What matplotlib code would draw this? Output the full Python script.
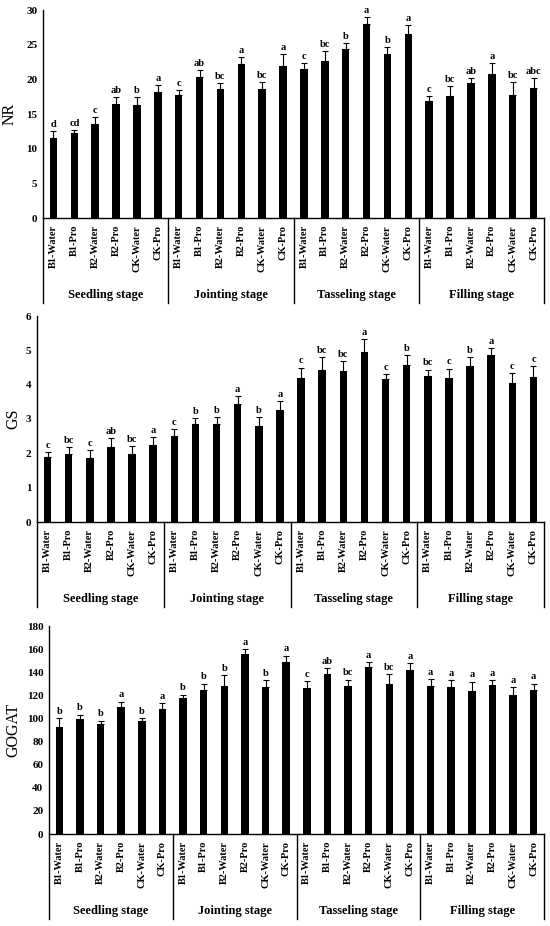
#!/usr/bin/env python3
# -*- coding: utf-8 -*-
"""
NR, GS and GOGAT by treatment and growth stage - bar charts with error bars
"""

# %% imports
import matplotlib
matplotlib.use("Agg")
import matplotlib.pyplot as plt
import numpy as np

plt.rcParams['font.family'] = ['Liberation Serif', 'DejaVu Serif']

# %% data
stages = ["Seedling stage", "Jointing stage", "Tasseling stage", "Filling stage"]
treatments = ["B1-Water", "B1-Pro", "B2-Water", "B2-Pro", "CK-Water", "CK-Pro"]

nrMean = [11.5, 12.2, 13.6, 16.5, 16.3, 18.2,
          17.8, 20.4, 18.6, 22.2, 18.6, 21.9,
          21.5, 22.6, 24.4, 28.0, 23.6, 26.5,
          16.9, 17.6, 19.5, 20.7, 17.8, 18.8]
nrErr = [1.05, 0.43, 1.0, 0.96, 1.16, 1.0,
         0.63, 0.91, 0.87, 1.06, 1.0, 1.73,
         0.9, 1.54, 0.82, 0.96, 1.0, 1.3,
         0.67, 1.44, 0.72, 1.69, 1.78, 1.35]
nrLetters = ["d", "cd", "c", "ab", "b", "a",
             "c", "ab", "bc", "a", "bc", "a",
             "c", "bc", "b", "a", "b", "a",
             "c", "bc", "ab", "a", "bc", "abc"]

gsMean = [1.88, 1.97, 1.86, 2.19, 1.99, 2.24,
          2.51, 2.85, 2.85, 3.43, 2.81, 3.25,
          4.18, 4.42, 4.41, 4.96, 4.16, 4.56,
          4.26, 4.18, 4.55, 4.85, 4.06, 4.23]
gsErr = [0.17, 0.2, 0.23, 0.25, 0.23, 0.23,
         0.2, 0.17, 0.2, 0.25, 0.25, 0.27,
         0.32, 0.39, 0.27, 0.36, 0.15, 0.3,
         0.18, 0.29, 0.26, 0.22, 0.27, 0.32]
gsLetters = ["c", "bc", "c", "ab", "bc", "a",
             "c", "b", "b", "a", "b", "a",
             "c", "bc", "bc", "a", "c", "b",
             "bc", "c", "b", "a", "c", "c"]

gogatMean = [92.7, 99.1, 95.0, 110.0, 97.9, 108.3,
             117.5, 125.0, 128.5, 155.8, 127.0, 148.9,
             126.2, 138.2, 127.9, 144.3, 130.2, 141.7,
             128.2, 127.6, 123.8, 128.7, 120.4, 125.0]
gogatErr = [7.5, 4.3, 3.2, 4.6, 2.3, 5.2,
            3.2, 5.2, 9.2, 4.0, 6.6, 5.5,
            5.8, 5.2, 5.8, 4.9, 8.6, 6.3,
            6.0, 5.8, 8.1, 4.3, 6.6, 5.2]
gogatLetters = ["b", "b", "b", "a", "b", "a",
                "b", "b", "b", "a", "b", "a",
                "c", "ab", "bc", "a", "bc", "a",
                "a", "a", "a", "a", "a", "a"]

# %% figure
W, H = 550, 926
fig = plt.figure(figsize=(W / 100, H / 100), dpi=100)


def plotPanel(box, mean, err, letters, ylabel, ymax, ystep, ylabelpad):
    # box = (left, top, right, bottom) in pixels
    left, top, right, bottom = box
    ax = fig.add_axes([left / W, 1 - bottom / H, (right - left) / W, (bottom - top) / H])
    x = np.arange(len(mean))
    mean = np.array(mean)
    err = np.array(err)
    ax.bar(x, mean, width=0.36, color="black", zorder=2)
    ax.errorbar(x, mean, yerr=[np.zeros_like(err), err], fmt="none",
                ecolor="black", elinewidth=0.8, capsize=2.2, capthick=0.8, zorder=3)
    for xi, m, e, lab in zip(x, mean, err, letters):
        ax.annotate(lab, (xi, m + e), xytext=(0, 1.5), textcoords="offset points",
                    ha="center", va="bottom", fontsize=7.5, fontweight="bold")
    ax.set_xlim(-0.5, len(mean) - 0.5)
    ax.set_ylim(0, ymax)
    ax.set_yticks(np.arange(0, ymax + ystep / 2, ystep))
    ax.tick_params(axis="y", length=0, labelsize=8, pad=4)
    for t in ax.get_yticklabels():
        t.set_fontweight("bold")
    ax.set_xticks(x)
    ax.set_xticklabels(treatments * len(stages), rotation=90, fontsize=7.5, fontweight="bold")
    ax.tick_params(axis="x", length=0, pad=5)
    ax.set_ylabel(ylabel, fontsize=11.5, labelpad=ylabelpad)
    for s in ["top", "right"]:
        ax.spines[s].set_visible(False)
    ax.spines["left"].set_linewidth(1.0)
    ax.spines["bottom"].set_linewidth(1.0)

    # group separators and group labels below the axis
    trans = ax.get_xaxis_transform()
    depth = -85 / (bottom - top)
    for k in range(len(stages) + 1):
        xb = k * len(treatments) - 0.5
        ax.plot([xb, xb], [0, depth], color="black", lw=1.0, transform=trans, clip_on=False)
    for k, st in enumerate(stages):
        xc = k * len(treatments) + (len(treatments) - 1) / 2
        ax.text(xc, -77 / (bottom - top), st, transform=trans, ha="center", va="center",
                fontsize=9, fontweight="bold")
    return ax


plotPanel((43, 10, 544, 218), nrMean, nrErr, nrLetters, "NR", 30, 5, 6)
plotPanel((37, 316, 544, 522), gsMean, gsErr, gsLetters, "GS", 6, 1, 3)
plotPanel((49, 626, 544, 834), gogatMean, gogatErr, gogatLetters, "GOGAT", 180, 20, 4)

fig.savefig("out.png", dpi=100)
